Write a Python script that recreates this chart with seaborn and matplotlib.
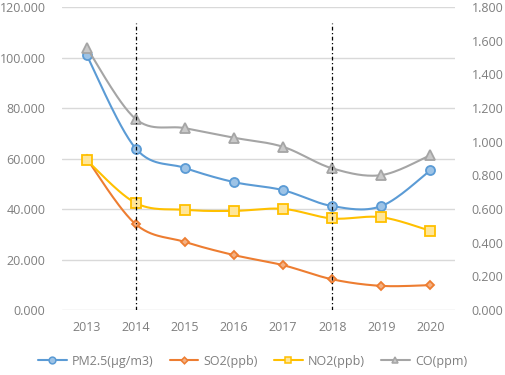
import numpy as np
import pandas as pd
import matplotlib
matplotlib.use("Agg")
import matplotlib.pyplot as plt
from matplotlib.lines import Line2D
from matplotlib.ticker import FormatStrFormatter, MultipleLocator
import seaborn as sns

# data
years = [2013, 2014, 2015, 2016, 2017, 2018, 2019, 2020]
pm25 = [101.0, 64.0, 56.3, 50.7, 47.5, 41.2, 41.2, 55.4]
so2 = [60.0, 34.0, 27.0, 21.8, 17.8, 12.2, 9.6, 9.9]
no2 = [59.4, 42.4, 39.7, 39.3, 40.1, 36.3, 36.8, 31.4]
co = [1.56, 1.135, 1.081, 1.024, 0.970, 0.842, 0.802, 0.921]
marked_years = [2014, 2018]

sns.set_style("white")
plt.rcParams["font.family"] = ["Open Sans", "DejaVu Sans"]

TEXT = "#7f7f7f"
GRID = "#d9d9d9"


def smooth(xs, ys, n=30):
    """Catmull-Rom style bezier through the points (like Excel smoothed line)"""
    xs = np.asarray(xs, float)
    ys = np.asarray(ys, float)
    px = np.concatenate([[xs[0]], xs, [xs[-1]]])
    py = np.concatenate([[ys[0]], ys, [ys[-1]]])
    out_x, out_y = [], []
    t = np.linspace(0, 1, n)
    for i in range(1, len(px) - 2):
        p0 = np.array([px[i], py[i]])
        p3 = np.array([px[i + 1], py[i + 1]])
        c1 = p0 + (p3 - np.array([px[i - 1], py[i - 1]])) / 6
        c2 = p3 - (np.array([px[i + 2], py[i + 2]]) - p0) / 6
        b = ((1 - t) ** 3)[:, None] * p0 + (3 * (1 - t) ** 2 * t)[:, None] * c1 \
            + (3 * (1 - t) * t ** 2)[:, None] * c2 + (t ** 3)[:, None] * p3
        out_x.extend(b[:, 0])
        out_y.extend(b[:, 1])
    return out_x, out_y


series = [
    ("PM2.5(μg/m3)", pm25, "#5B9BD5", "#9DC3E6", "o", 6.5, "left"),
    ("SO2(ppb)", so2, "#ED7D31", "#F4B183", "D", 4.5, "left"),
    ("NO2(ppb)", no2, "#FFC000", "#FFE699", "s", 6.5, "left"),
    ("CO(ppm)", co, "#A5A5A5", "#C9C9C9", "^", 6.5, "right"),
]

fig = plt.figure(figsize=(5.05, 3.75), dpi=100)
ax = fig.add_axes([0.123, 0.173, 0.778, 0.808])
ax2 = ax.twinx()

xidx = np.arange(len(years))
handles = []
for label, vals, col, fill, mk, ms, side in series:
    a = ax if side == "left" else ax2
    sx, sy = smooth(xidx, vals)
    a.plot(sx, sy, color=col, lw=1.5, zorder=2)
    df = pd.DataFrame({"x": xidx, "y": vals})
    sns.lineplot(data=df, x="x", y="y", ax=a, linestyle="", marker=mk,
                 markersize=ms, markerfacecolor=fill, markeredgecolor=col,
                 markeredgewidth=1.3, zorder=3)
    handles.append(Line2D([0], [0], color=col, lw=1.5, marker=mk, markersize=ms * 0.75,
                          markerfacecolor=fill, markeredgecolor=col,
                          markeredgewidth=1.1, label=label))

ax.set_ylim(0, 120)
ax2.set_ylim(0, 1.8)
ax.yaxis.set_major_locator(MultipleLocator(20))
ax2.yaxis.set_major_locator(MultipleLocator(0.2))
ax.yaxis.set_major_formatter(FormatStrFormatter("%.3f"))
ax2.yaxis.set_major_formatter(FormatStrFormatter("%.3f"))
ax.set_xlim(-0.5, len(years) - 0.5)
ax.set_xticks(xidx)
ax.set_xticklabels([str(y) for y in years])

ax.grid(axis="y", color=GRID, lw=1)
ax.set_axisbelow(True)
for a in (ax, ax2):
    for s in a.spines.values():
        s.set_visible(False)
    a.tick_params(length=0, labelsize=9, colors=TEXT)
    a.set_xlabel("")
    a.set_ylabel("")
ax.tick_params(axis="y", pad=12)
ax2.tick_params(axis="y", pad=12)
ax.tick_params(axis="x", pad=8)

# vertical dash-dot markers for policy years
for yr in marked_years:
    ax2.vlines(years.index(yr), 0, 1.705, color="black", lw=0.9,
               linestyles=(0, (3, 2, 1, 2)), zorder=5)

fig.legend(handles=handles, loc="center", bbox_to_anchor=(0.5, 0.037), ncol=4,
           frameon=False, fontsize=9, labelcolor=TEXT, handlelength=2.3,
           columnspacing=1.3, handletextpad=0.4)

fig.savefig("out.png", dpi=100)
